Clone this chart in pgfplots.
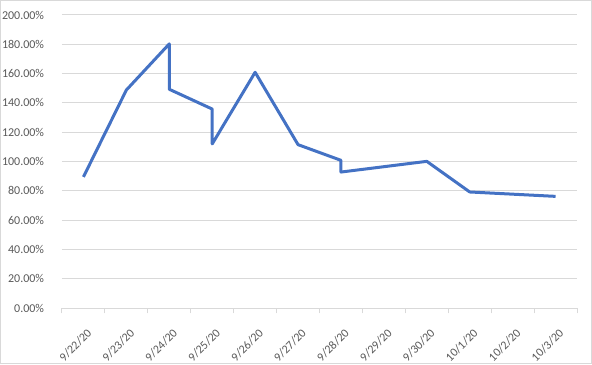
\documentclass[border=0pt]{standalone}
\usepackage{pgfplots}
\pgfplotsset{compat=1.18}
\usepackage{fontspec}
\setmainfont{Carlito}
\definecolor{exblue}{HTML}{4472C4}
\definecolor{gridgray}{HTML}{D9D9D9}
\definecolor{lab}{HTML}{595959}
\begin{document}
\begin{tikzpicture}
\useasboundingbox (-46.5pt,-42pt) rectangle (397.5pt,231pt);
\draw[gridgray, line width=0.75pt] (-46pt,-41.5pt) rectangle (397pt,230.5pt);
\begin{axis}[
  at={(0,0)}, anchor=south west,
  scale only axis, width=386.25pt, height=219.75pt,
  xmin=-0.5, xmax=11.5, ymin=0, ymax=200,
  axis lines*=left,
  y axis line style={draw=none},
  x axis line style={gridgray, line width=0.75pt, -},
  xtick={0,...,11},
  xticklabels={9/22/20,9/23/20,9/24/20,9/25/20,9/26/20,9/27/20,9/28/20,9/29/20,9/30/20,10/1/20,10/2/20,10/3/20},
  major x tick style={draw=none},
  minor xtick={-0.5,0.5,...,11.5},
  minor x tick style={gridgray, line width=0.75pt},
  minor tick length=4pt, tick align=outside,
  ytick style={draw=none},
  xticklabel style={rotate=45, anchor=east, inner sep=0pt, yshift=-12.5pt, xshift=-6pt, font=\fontsize{9pt}{10pt}\selectfont, text=lab},
  yticklabel style={font=\fontsize{9pt}{10pt}\selectfont, text=lab, inner sep=0pt, xshift=-9pt},
  ytick={0,20,...,200},
  yticklabels={0.00\%,20.00\%,40.00\%,60.00\%,80.00\%,100.00\%,120.00\%,140.00\%,160.00\%,180.00\%,200.00\%},
  ymajorgrids, major grid style={gridgray, line width=0.75pt},
  clip=false,
]
\addplot[exblue, line width=2.25pt, line join=round] coordinates {
  (0,89.5) (1,148.8) (2,180.3) (2,149.3) (3,135.8) (3,112.0) (4,160.9)
  (5,111.5) (6,100.8) (6,92.8) (8,100.1) (9,79.2) (11,76.2)
};
\end{axis}
\end{tikzpicture}
\end{document}
